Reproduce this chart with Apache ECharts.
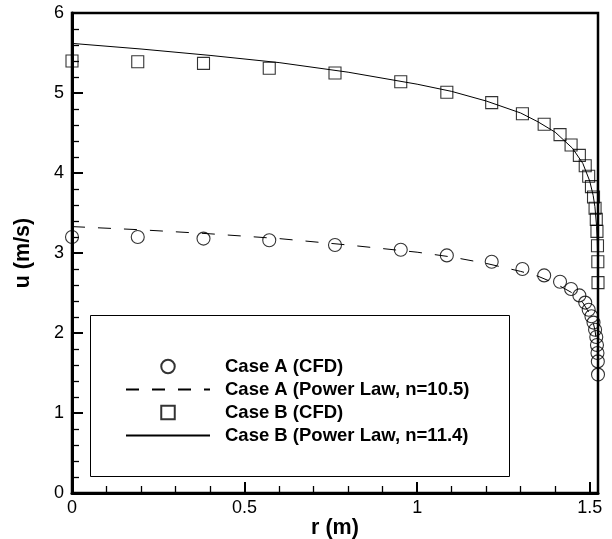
<!DOCTYPE html>
<html><head><meta charset="utf-8">
<script src="https://cdn.jsdelivr.net/npm/echarts@6/dist/echarts.min.js"></script>
<style>html,body{margin:0;padding:0;background:#fff}#c{width:612px;height:539px}</style>
</head><body><div id="c"></div>
<script>
// ---- data ----
const rCFD   = [0, 0.1905, 0.381, 0.5715, 0.762, 0.9525, 1.086, 1.216, 1.305, 1.368, 1.414, 1.446, 1.470, 1.487, 1.497, 1.505, 1.511, 1.5155, 1.519, 1.521, 1.5225, 1.5235, 1.524];
const uA_CFD = [3.20, 3.20, 3.18, 3.16, 3.10, 3.04, 2.97, 2.89, 2.80, 2.72, 2.64, 2.55, 2.47, 2.38, 2.29, 2.21, 2.13, 2.04, 1.95, 1.85, 1.75, 1.645, 1.48];
const uB_CFD = [5.40, 5.39, 5.37, 5.31, 5.25, 5.14, 5.01, 4.88, 4.74, 4.61, 4.48, 4.35, 4.22, 4.09, 3.96, 3.83, 3.70, 3.56, 3.42, 3.27, 3.09, 2.89, 2.63];
const rLaw   = [0, 0.2, 0.4, 0.6, 0.8, 1.0, 1.1, 1.2, 1.3, 1.35, 1.4, 1.45, 1.48, 1.5, 1.51, 1.515, 1.52, 1.522, 1.523, 1.5235];
const uA_Law = [3.33, 3.29, 3.24, 3.18, 3.10, 3.01, 2.95, 2.87, 2.77, 2.71, 2.62, 2.50, 2.38, 2.24, 2.13, 2.04, 1.89, 1.77, 1.66, 1.55];
const uB_Law = [5.62, 5.55, 5.47, 5.38, 5.26, 5.11, 5.02, 4.90, 4.75, 4.64, 4.51, 4.31, 4.12, 3.90, 3.72, 3.58, 3.33, 3.14, 2.95, 2.78];
const seriesNames = ['Case A (CFD)', 'Case A (Power Law, n=10.5)', 'Case B (CFD)', 'Case B (Power Law, n=11.4)'];
const xName = 'r (m)';
const yName = 'u (m/s)';
const xMin = 0, xMax = 1.524, xTickMax = 1.5, xInterval = 0.5;
const yMin = 0, yMax = 6, yInterval = 1;

// ---- layout / style ----
const FONT = '"Liberation Sans", Arial, Helvetica, sans-serif';
const G = {left: 72, right: 14, top: 13, bottom: 46};
const plotW = 612 - G.left - G.right;
const zip = (xs, ys) => xs.map((x, i) => [x, ys[i]]);
const NOFILL = 'rgba(0,0,0,0)';
const SQUARE_ICON = 'path://M0,0L1,0L1,1L0,1Z';

const chart = echarts.init(document.getElementById('c'), null, {renderer: 'canvas'});
const tickStyle = {color: '#000', width: 2};
const minorStyle = {color: '#000', width: 1.3};
chart.setOption({
  animation: false,
  backgroundColor: '#fff',
  grid: [
    {left: G.left, right: G.right, top: G.top, bottom: G.bottom, containLabel: false, outerBoundsMode: 'none',
     show: true, borderColor: '#000', borderWidth: 2.5, backgroundColor: 'transparent'},
    {left: G.left, width: plotW * xTickMax / xMax, top: G.top, bottom: G.bottom, containLabel: false, outerBoundsMode: 'none'}
  ],
  xAxis: [
    {gridIndex: 0, type: 'value', min: xMin, max: xMax, interval: xInterval,
     axisLine: {onZero: false, lineStyle: {color: '#000', width: 3}},
     axisTick: {show: false}, minorTick: {show: false}, splitLine: {show: false},
     axisLabel: {showMaxLabel: false, color: '#000', fontSize: 18, fontFamily: FONT, margin: 6},
     name: xName, nameLocation: 'middle', nameGap: 24.5, nameMoveOverlap: false,
     nameTextStyle: {color: '#000', fontSize: 21.5, fontWeight: 'bold', fontFamily: FONT}},
    {gridIndex: 1, type: 'value', min: xMin, max: xTickMax, interval: xInterval,
     axisLine: {show: false}, axisLabel: {show: false}, splitLine: {show: false},
     axisTick: {inside: true, length: 11, lineStyle: tickStyle},
     minorTick: {show: true, splitNumber: 5, length: 7, lineStyle: minorStyle}}
  ],
  yAxis: [
    {gridIndex: 0, type: 'value', min: yMin, max: yMax, interval: yInterval,
     axisLine: {onZero: false, lineStyle: {color: '#000', width: 3}},
     axisTick: {inside: true, length: 11, lineStyle: tickStyle},
     minorTick: {show: true, splitNumber: 5, length: 7, lineStyle: minorStyle},
     splitLine: {show: false},
     axisLabel: {color: '#000', fontSize: 18, fontFamily: FONT, margin: 8},
     name: yName, nameLocation: 'middle', nameGap: 37.5, nameMoveOverlap: false,
     nameTextStyle: {color: '#000', fontSize: 21.5, fontWeight: 'bold', fontFamily: FONT}},
    {gridIndex: 1, type: 'value', min: yMin, max: yMax, show: false}
  ],
  legend: {
    orient: 'vertical', left: 125, top: 357, itemWidth: 84, itemHeight: 13.5, itemGap: 4,
    selectedMode: false, padding: 0, symbolKeepAspect: true,
    textStyle: {color: '#000', fontSize: 18.5, fontWeight: 'bold', fontFamily: FONT, padding: [0, 0, 0, 10]},
    data: [
      {name: seriesNames[0], icon: 'circle'},
      {name: seriesNames[1]},
      {name: seriesNames[2], icon: SQUARE_ICON},
      {name: seriesNames[3]}
    ]
  },
  graphic: [
    {type: 'rect', silent: true, z: 1,
     shape: {x: 90.5, y: 315.5, width: 419, height: 161},
     style: {fill: 'none', stroke: '#000', lineWidth: 1}}
  ],
  series: [
    {name: seriesNames[0], type: 'scatter', symbol: 'circle', symbolSize: 13, data: zip(rCFD, uA_CFD),
     itemStyle: {color: NOFILL, borderColor: '#000', borderWidth: 1.1}, silent: true, clip: false, z: 3},
    {name: seriesNames[1], type: 'line', data: zip(rLaw, uA_Law), symbol: 'none', showSymbol: false,
     lineStyle: {color: '#000', width: 1, type: [13, 13]}, itemStyle: {color: NOFILL, borderColor: NOFILL, borderWidth: 0}, silent: true, z: 2},
    {name: seriesNames[2], type: 'scatter', symbol: 'rect', symbolSize: 12, data: zip(rCFD, uB_CFD),
     itemStyle: {color: NOFILL, borderColor: '#000', borderWidth: 1.1}, silent: true, clip: false, z: 3},
    {name: seriesNames[3], type: 'line', data: zip(rLaw, uB_Law), symbol: 'none', showSymbol: false,
     lineStyle: {color: '#000', width: 1, type: 'solid'}, itemStyle: {color: NOFILL, borderColor: NOFILL, borderWidth: 0}, silent: true, z: 2}
  ]
});
</script></body></html>
